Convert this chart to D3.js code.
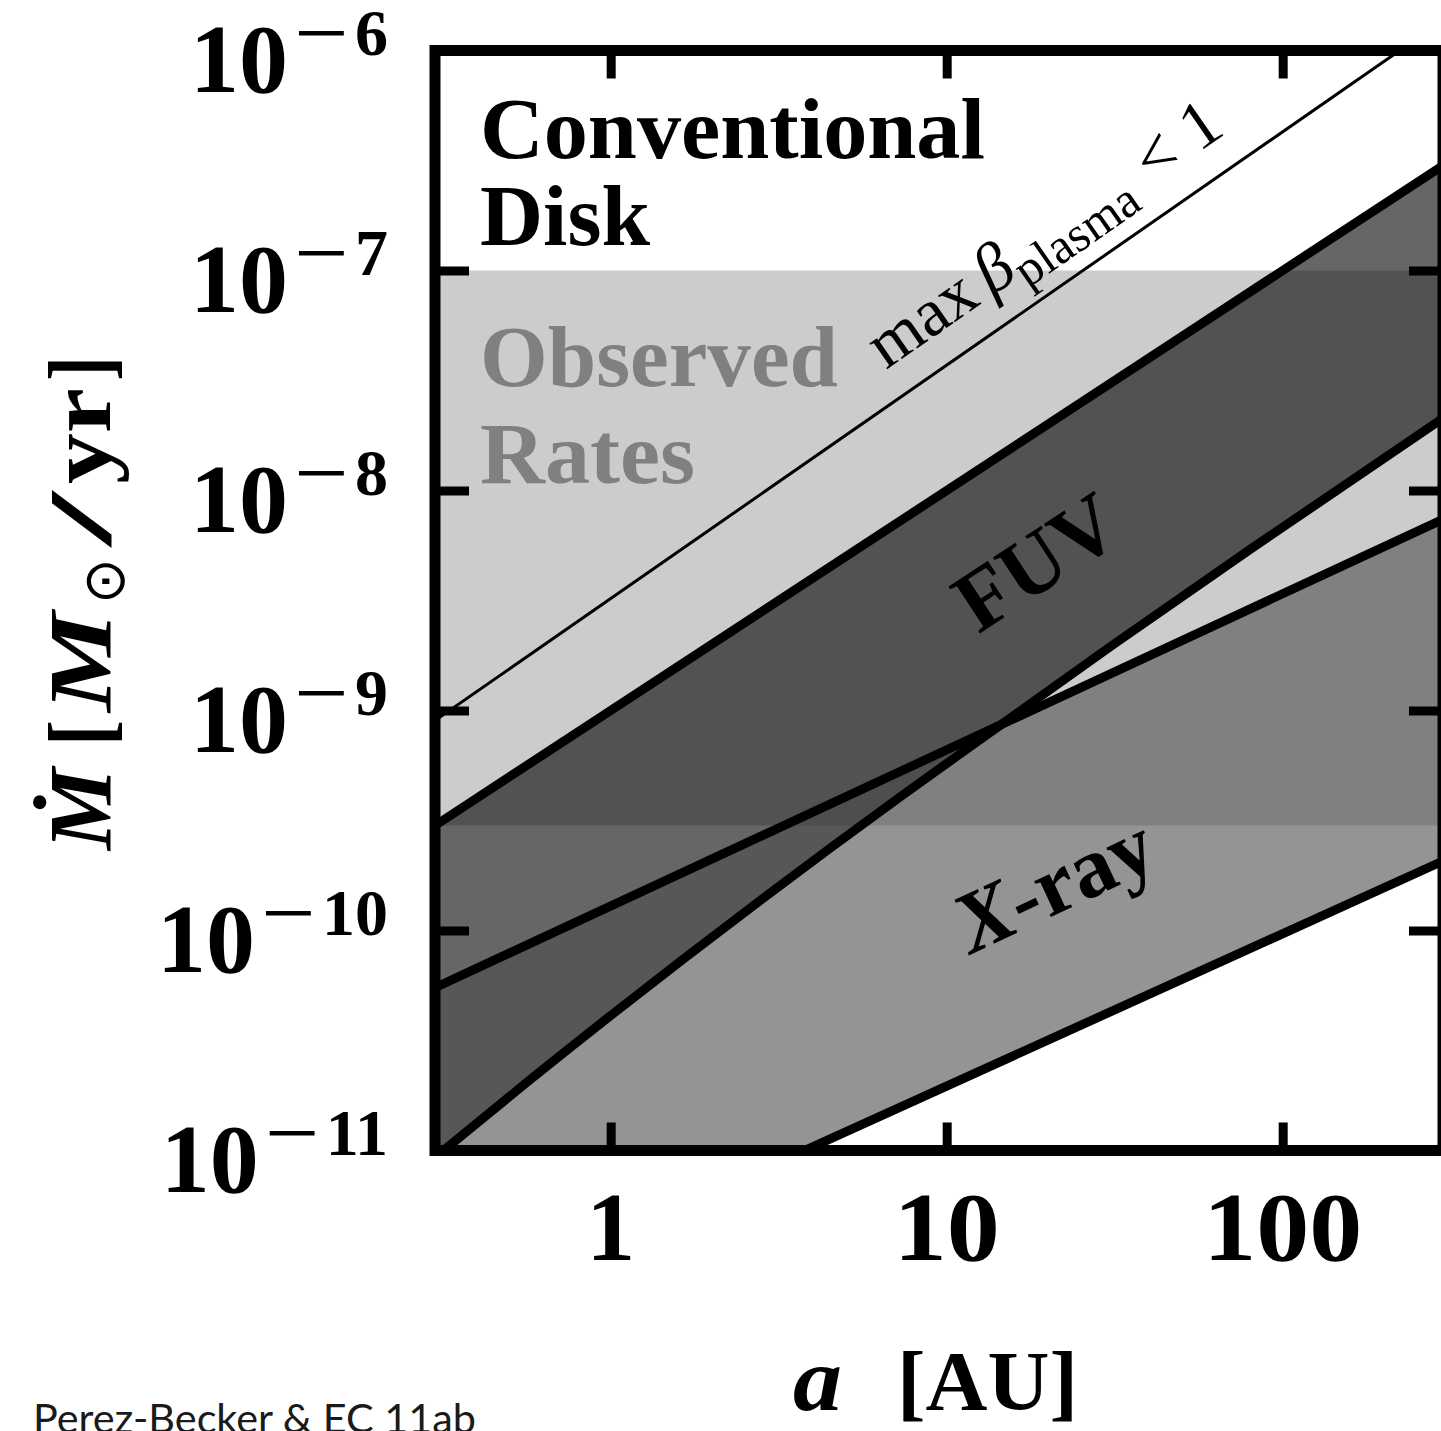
<!DOCTYPE html>
<html>
<head>
<meta charset="utf-8">
<script src="https://cdn.jsdelivr.net/npm/d3@7"></script>
<style>
  html, body { margin: 0; padding: 0; background: #ffffff; }
  svg { display: block; }
</style>
</head>
<body>
<svg id="chart" width="1441" height="1431"></svg>
<script>
// Accretion rate vs. orbital radius: observed range, FUV and X-ray
// ionisation windows, and the magnetisation limit (beta_plasma < 1).

// Axis ticks
const xTicks = [1, 10, 100];
const xTickLabels = ["1", "10", "100"];
const yTicks = [1e-11, 1e-10, 1e-9, 1e-8, 1e-7, 1e-6];
const yTickExponents = ["11", "10", "9", "8", "7", "6"];

// Observed accretion rates, Msun/yr
const observedLow = 3e-10;
const observedHigh = 1e-7;

// Boundaries as [a (AU), Mdot (Msun/yr)]
const fuvUpper = [[0.3, 3e-10], [300, 3e-7]];
const fuvLower = [[0.3, 9.3e-12], [0.574, 2.09e-11], [7.27, 4.05e-10], [14.4, 8.55e-10],
                  [30.7, 1.95e-9], [80.3, 5.42e-9], [300, 2.13e-8]];
const xrayUpper = [[0.3, 5.5e-11], [300, 7.4e-9]];
const xrayLower = [[0.3, 1.73e-12], [300, 2.07e-10]];
const betaLimit = [[0.3, 9.0e-10], [300, 1.37e-6]];

const serif = "'Liberation Serif', 'Times New Roman', serif";
const sans = "Lato, 'Open Sans', sans-serif";

const svg = d3.select("#chart");
const plot = { left: 435, right: 1443, top: 50.5, bottom: 1150.5 };

const x = d3.scaleLog().domain([0.3, 300]).range([plot.left, plot.right]);
const y = d3.scaleLog().domain([1e-11, 1e-6]).range([plot.bottom, plot.top]);

const line = d3.line().x(d => x(d[0])).y(d => y(d[1]));
const smooth = d3.line().x(d => x(d[0])).y(d => y(d[1])).curve(d3.curveMonotoneX);

// Closed band: lower edge left-to-right, straight upper edge back.
const band = (upper, lower, lowerPath) => {
  const back = upper.slice().reverse().map(d => `L${x(d[0])},${y(d[1])}`).join("");
  return lowerPath(lower) + back + "Z";
};

svg.append("defs").append("clipPath").attr("id", "plotClip")
  .append("rect")
  .attr("x", plot.left).attr("y", plot.top)
  .attr("width", plot.right - plot.left).attr("height", plot.bottom - plot.top);

const area = svg.append("g").attr("clip-path", "url(#plotClip)");

// Observed-rate band
area.append("rect")
  .attr("x", plot.left).attr("width", plot.right - plot.left)
  .attr("y", y(observedHigh)).attr("height", y(observedLow) - y(observedHigh))
  .attr("fill", "#000").attr("fill-opacity", 0.2);

// FUV window
area.append("path")
  .attr("d", band(fuvUpper, fuvLower, smooth))
  .attr("fill", "#000").attr("fill-opacity", 0.6);

// X-ray window
area.append("path")
  .attr("d", band(xrayUpper, xrayLower, line))
  .attr("fill", "#4d4d4d").attr("fill-opacity", 0.6);

// Boundary lines
[fuvUpper, xrayUpper, xrayLower].forEach(b => {
  area.append("path").attr("d", line(b))
    .attr("fill", "none").attr("stroke", "#000").attr("stroke-width", 9);
});
area.append("path").attr("d", smooth(fuvLower))
  .attr("fill", "none").attr("stroke", "#000").attr("stroke-width", 9);
area.append("path").attr("d", line(betaLimit))
  .attr("fill", "none").attr("stroke", "#000").attr("stroke-width", 3);

// Region labels
const label = (txt, px, py, size, color, len) => {
  const t = svg.append("text")
    .attr("x", px).attr("y", py)
    .attr("font-family", serif).attr("font-weight", "bold")
    .attr("font-size", size).attr("fill", color)
    .text(txt);
  if (len) t.attr("textLength", len).attr("lengthAdjust", "spacingAndGlyphs");
  return t;
};
label("Conventional", 480, 158, 86, "#000", 505);
label("Disk", 480, 245, 86, "#000", 170);
label("Observed", 480, 386, 86, "#808080", 358);
label("Rates", 480, 483, 86, "#808080", 215);

svg.append("text")
  .attr("transform", "translate(1052,586) rotate(-33.3)")
  .attr("text-anchor", "middle")
  .attr("font-family", serif).attr("font-weight", "bold").attr("font-size", 86)
  .text("FUV");

const xr = svg.append("text")
  .attr("transform", "translate(1066,910) rotate(-25)")
  .attr("text-anchor", "middle")
  .attr("font-family", serif).attr("font-weight", "bold").attr("font-size", 86);
xr.append("tspan").attr("font-style", "italic").text("X");
xr.append("tspan").text("-ray");

const bl = svg.append("text")
  .attr("transform", "translate(886,370) rotate(-34.8)")
  .attr("font-family", serif).attr("font-size", 68);
bl.append("tspan").text("max");
bl.append("tspan").attr("dx", 12).attr("font-style", "italic").text("\u03B2");
bl.append("tspan").attr("font-size", 50).attr("dy", 14).text("plasma");
bl.append("tspan").attr("dy", -14).attr("dx", 20).text("<");
bl.append("tspan").attr("dx", 18).text("1");

// Axes: inward ticks on all four sides
const styleAxis = g => {
  g.select(".domain").remove();
  g.selectAll(".tick line").attr("stroke", "#000").attr("stroke-width", 9);
  g.selectAll(".tick text").remove();
};
svg.append("g").attr("transform", `translate(0,${plot.bottom})`)
  .call(d3.axisBottom(x).tickValues(xTicks).tickSize(-28)).call(styleAxis);
svg.append("g").attr("transform", `translate(0,${plot.top})`)
  .call(d3.axisTop(x).tickValues(xTicks).tickSize(-28)).call(styleAxis);
svg.append("g").attr("transform", `translate(${plot.left},0)`)
  .call(d3.axisLeft(y).tickValues(yTicks).tickSize(-34)).call(styleAxis);
svg.append("g").attr("transform", `translate(${plot.right},0)`)
  .call(d3.axisRight(y).tickValues(yTicks).tickSize(-34)).call(styleAxis);

// Frame
svg.append("rect")
  .attr("x", plot.left).attr("y", plot.top)
  .attr("width", plot.right - plot.left).attr("height", plot.bottom - plot.top)
  .attr("fill", "none").attr("stroke", "#000").attr("stroke-width", 11);

// Tick labels
svg.append("g").selectAll("text").data(xTicks).join("text")
  .attr("x", d => x(d)).attr("y", 1260)
  .attr("text-anchor", "middle")
  .attr("font-family", serif).attr("font-weight", "bold").attr("font-size", 98)
  .text((d, i) => xTickLabels[i])
  .each(function (d, i) {
    if (xTickLabels[i].length > 1) {
      d3.select(this).attr("textLength", 53 * xTickLabels[i].length)
        .attr("lengthAdjust", "spacingAndGlyphs");
    }
  });

// y tick labels: "10" with a raised negative exponent, right edge at x = 388
const yLab = svg.append("g")
  .attr("font-family", serif).attr("font-weight", "bold").attr("text-anchor", "end");
yTicks.forEach((v, i) => {
  const base = y(v) + 41.5;
  const sup = base - 37;
  const e = yLab.append("text").attr("x", 388).attr("y", sup)
    .attr("font-size", 66).text(yTickExponents[i]);
  const ew = e.node().getComputedTextLength();
  const mEnd = 388 - ew - 6;
  yLab.append("text").attr("x", mEnd).attr("y", sup)
    .attr("font-size", 66).attr("textLength", 55).attr("lengthAdjust", "spacingAndGlyphs")
    .text("\u2212");
  yLab.append("text").attr("x", mEnd - 55 - 6).attr("y", base)
    .attr("font-size", 98).text("10");
});

// Axis titles
svg.append("text")
  .attr("x", 793).attr("y", 1410)
  .attr("font-family", serif).attr("font-weight", "bold").attr("font-style", "italic")
  .attr("font-size", 92).attr("textLength", 49).attr("lengthAdjust", "spacingAndGlyphs")
  .text("a");
svg.append("text")
  .attr("x", 897).attr("y", 1410)
  .attr("font-family", serif).attr("font-weight", "bold")
  .attr("font-size", 84).attr("textLength", 181).attr("lengthAdjust", "spacingAndGlyphs")
  .text("[AU]");

// y title, read bottom-to-top; pieces placed along the rotated baseline (x = 110)
const yTitle = [
  { s: "\u1E40", from: 850, len: 82, italic: true },
  { s: "[", from: 746, len: 26 },
  { s: "M", from: 712, len: 100, italic: true },
  { s: "\u2299", from: 604, len: 46, sub: true },
  { s: "/", from: 546, len: 54 },
  { s: "yr", from: 484, len: 96 },
  { s: "]", from: 381, len: 25 }
];
const yg = svg.append("g").attr("transform", "translate(110,0) rotate(-90)")
  .attr("font-family", serif).attr("font-weight", "bold");
yTitle.forEach(p => {
  yg.append("text")
    .attr("x", -p.from).attr("y", p.sub ? 14 : 0)
    .attr("font-size", p.sub ? 58 : 88)
    .attr("font-weight", p.sub ? "normal" : "bold")
    .attr("font-style", p.italic ? "italic" : "normal")
    .attr("textLength", p.len).attr("lengthAdjust", "spacingAndGlyphs")
    .text(p.s);
});

// Credit line
svg.append("text")
  .attr("x", 33).attr("y", 1433)
  .attr("font-family", sans).attr("font-size", 40).attr("fill", "#1a1a1a")
  .attr("textLength", 443).attr("lengthAdjust", "spacingAndGlyphs")
  .text("Perez-Becker & EC 11ab");
</script>
</body>
</html>
